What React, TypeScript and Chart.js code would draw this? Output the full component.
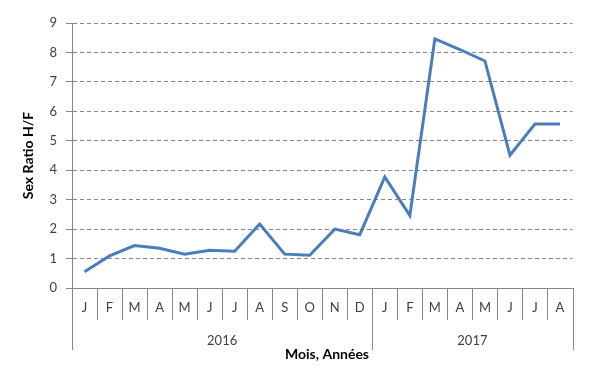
import React, { useEffect, useRef } from "react";
import { Chart, registerables } from "chart.js";

Chart.register(...registerables);

const months = ["J", "F", "M", "A", "M", "J", "J", "A", "S", "O", "N", "D", "J", "F", "M", "A", "M", "J", "J", "A"];
const years = ["2016", "2017"];
const monthsPerYear = [12, 8];
const sexRatio = [0.55, 1.09, 1.44, 1.35, 1.15, 1.28, 1.25, 2.17, 1.15, 1.11, 2.0, 1.81, 3.77, 2.46, 8.46, 8.1, 7.71, 4.51, 5.57, 5.57];
const yTitle = "Sex Ratio H/F";
const xTitle = "Mois, Années";

const FONT = "Lato, 'Liberation Sans', sans-serif";
const AXIS = "#868686";

const bottomAxisPlugin = {
  id: "bottomAxis",
  afterDraw(chart: any) {
    const { ctx, chartArea } = chart;
    const x = chart.scales.x;
    const n = months.length;
    const left = chartArea.left;
    const right = chartArea.right;
    const bottom = chartArea.bottom;
    const step = (right - left) / n;
    ctx.save();
    ctx.strokeStyle = AXIS;
    ctx.lineWidth = 1;
    ctx.setLineDash([]);
    ctx.beginPath();
    ctx.moveTo(left, Math.round(bottom) + 0.5);
    ctx.lineTo(right, Math.round(bottom) + 0.5);
    ctx.stroke();
    const yearBounds: number[] = [0];
    let acc = 0;
    monthsPerYear.forEach((m) => { acc += m; yearBounds.push(acc); });
    for (let i = 0; i <= n; i++) {
      const px = Math.round(left + step * i) + 0.5;
      const long = yearBounds.includes(i);
      ctx.beginPath();
      ctx.moveTo(px, bottom);
      ctx.lineTo(px, bottom + (long ? 62 : 32));
      ctx.stroke();
    }
    ctx.fillStyle = "#404040";
    ctx.font = `13px ${FONT}`;
    ctx.textAlign = "center";
    ctx.textBaseline = "middle";
    months.forEach((m, i) => {
      ctx.fillText(m, x.getPixelForValue(i), bottom + 20);
    });
    years.forEach((yr, k) => {
      const a = x.getPixelForValue(yearBounds[k]) - step / 2;
      const b = x.getPixelForValue(yearBounds[k + 1] - 1) + step / 2;
      ctx.fillText(yr, (a + b) / 2, bottom + 53);
    });
    ctx.fillStyle = "#000";
    ctx.font = `bold 14px ${FONT}`;
    ctx.fillText(xTitle, 327, bottom + 66);
    ctx.translate(28, (chartArea.top + chartArea.bottom) / 2);
    ctx.rotate(-Math.PI / 2);
    ctx.fillText(yTitle, 0, 0);
    ctx.restore();
  },
};

export default function App() {
  const ref = useRef<HTMLCanvasElement>(null);
  useEffect(() => {
    document.body.style.margin = "0";
    const chart = new Chart(ref.current as HTMLCanvasElement, {
      type: "line",
      data: {
        labels: months.map((m, i) => `${m}${i}`),
        datasets: [
          {
            data: sexRatio,
            borderColor: "#4A7EBB",
            borderWidth: 3,
            pointRadius: 0,
            tension: 0,
            fill: false,
          },
        ],
      },
      options: {
        animation: false,
        responsive: false,
        devicePixelRatio: 1,
        layout: { padding: { left: 0, right: 39.5, top: 23, bottom: 100 } },
        plugins: { legend: { display: false }, tooltip: { enabled: false } },
        scales: {
          x: { type: "category", offset: true, display: false },
          y: {
            min: 0,
            max: 9,
            ticks: { stepSize: 1, padding: 9, color: "#404040", font: { size: 13, family: FONT } },
            grid: { color: AXIS, tickLength: 6, tickColor: AXIS, tickBorderDash: [] },
            border: { color: AXIS, dash: [4, 3], width: 1 },
            afterFit: (s: any) => { s.width = 72; },
          },
        },
      },
      plugins: [bottomAxisPlugin],
    });
    return () => chart.destroy();
  }, []);
  return <canvas ref={ref} width={612} height={388} style={{ display: "block" }} />;
}
